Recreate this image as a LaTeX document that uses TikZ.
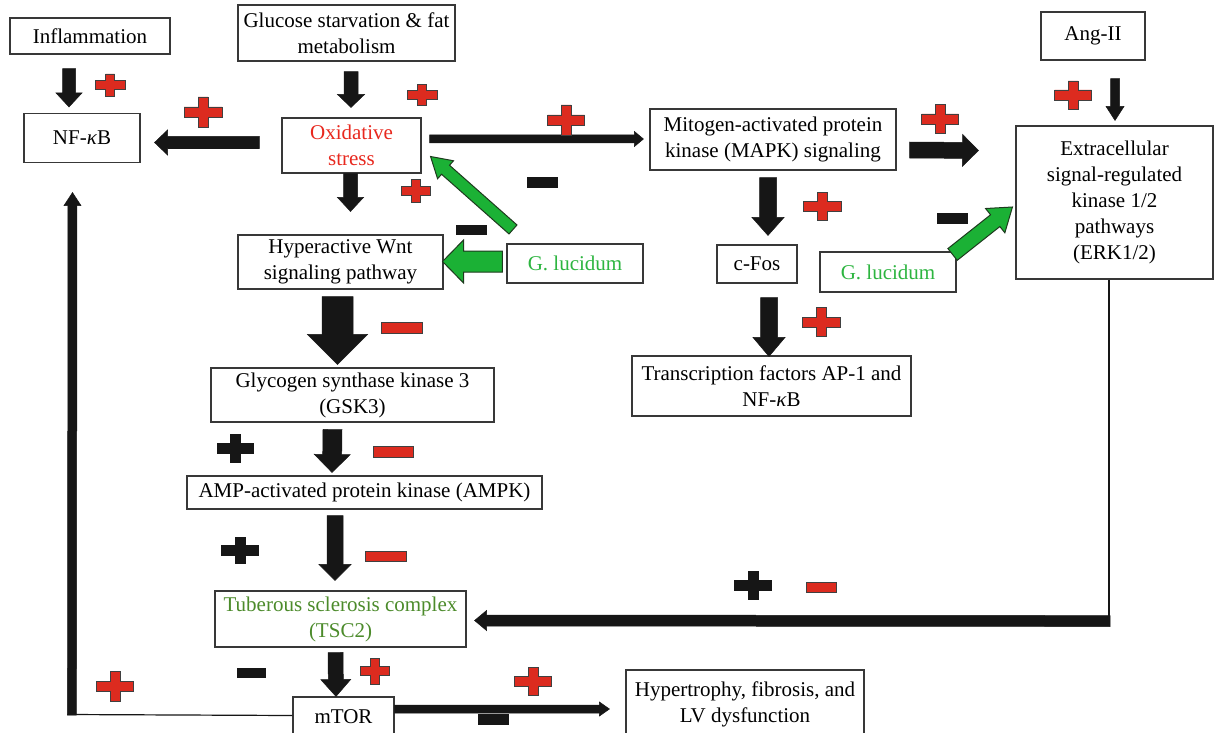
\documentclass[tikz,border=0pt]{standalone}
\usepackage{fontspec}
\setmainfont{Liberation Serif}
\usetikzlibrary{calc}
\definecolor{sred}{HTML}{DC2B1F}
\definecolor{txtred}{HTML}{E8281E}
\definecolor{agreen}{HTML}{1BB135}
\definecolor{gtext}{HTML}{2DB540}
\definecolor{tscgreen}{HTML}{4C8B2B}
\definecolor{ablack}{HTML}{161616}
\definecolor{gline}{HTML}{1E3A1E}
% block arrow: [style]{from}{to}{half shaft}{half head}{head length}
\newcommand\barrow[6][blk]{%
  \coordinate (bah) at ($(#3)!#6pt!(#2)$);
  \path[#1] ($(#2)!#4pt!90:(#3)$) -- ($(bah)!#4pt!-90:(#2)$) -- ($(bah)!#5pt!-90:(#2)$) -- (#3) -- ($(bah)!#5pt!90:(#2)$) -- ($(bah)!#4pt!90:(#2)$) -- ($(#2)!#4pt!-90:(#3)$) -- cycle;}
% plus sign: style, x, y, half width, half height, half thickness
\newcommand\plusmark[6]{\path[#1,shift={(#2,#3)}] (-#4,-#6) -- (-#6,-#6) -- (-#6,-#5) -- (#6,-#5) -- (#6,-#6) -- (#4,-#6) -- (#4,#6) -- (#6,#6) -- (#6,#5) -- (-#6,#5) -- (-#6,#6) -- (-#4,#6) -- cycle;}
% minus sign: style, x, y, half width, half height
\newcommand\minusmark[5]{\path[#1] (#2-#4,#3-#5) rectangle (#2+#4,#3+#5);}
\begin{document}
\begin{tikzpicture}[x=1pt,y=-1pt,
  box/.style={draw=black!78, line width=1.1pt, fill=white, align=center, inner sep=0pt, font=\fontsize{21}{26}\selectfont},
  blk/.style={fill=ablack, draw=ablack, line width=0.5pt, line join=miter},
  grn/.style={fill=agreen, draw=gline, line width=1pt, line join=miter},
  rsign/.style={fill=sred, draw=black!75, line width=0.8pt},
  bsign/.style={fill=ablack, draw=ablack, line width=0.5pt}]
\useasboundingbox (0,0) rectangle (1215,733);
\fill[white] (0,0) rectangle (1215,733);

% boxes
\node[box, minimum width=160pt, minimum height=36pt] (infl) at (90,36) {Inflammation};
\node[box, minimum width=217pt, minimum height=56pt] (gluc) at (346.5,33) {Glucose starvation \& fat\\metabolism};
\node[box, minimum width=116pt, minimum height=49pt] (nfkb) at (82,138) {NF-\textit{κ}B};
\node[box, minimum width=139pt, minimum height=55pt, text=txtred] (ox) at (351.5,145.5) {Oxidative\\stress};
\node[box, minimum width=246pt, minimum height=61pt] (mapk) at (773,139.5) {Mitogen-activated protein\\kinase (MAPK) signaling};
\node[box, minimum width=104pt, minimum height=48pt] (ang) at (1093,36) {Ang-II};
\node[box, minimum width=197pt, minimum height=153pt] (erk) at (1114.5,202.5) {Extracellular\\signal-regulated\\kinase 1/2\\pathways\\(ERK1/2)};
\node[box, minimum width=136pt, minimum height=39pt, text=gtext] (glL) at (575,263.5) {G. lucidum};
\node[box, minimum width=205pt, minimum height=54pt] (wnt) at (340.5,262) {Hyperactive Wnt\\signaling pathway};
\node[box, minimum width=80pt, minimum height=38pt] (cfos) at (757,264) {c-Fos};
\node[box, minimum width=136pt, minimum height=40pt, text=gtext] (glR) at (888,272) {G. lucidum};
\node[box, minimum width=279pt, minimum height=60pt] (tf) at (771.5,386) {Transcription factors AP-1 and\\NF-\textit{κ}B};
\node[box, minimum width=283pt, minimum height=54pt] (gsk) at (352.5,395) {Glycogen synthase kinase 3\\(GSK3)};
\node[box, minimum width=355pt, minimum height=33pt] (ampk) at (364.5,492.5) {AMP-activated protein kinase (AMPK)};
\node[box, minimum width=251pt, minimum height=56pt, text=tscgreen] (tsc) at (340.5,619) {Tuberous sclerosis complex\\(TSC2)};
\node[box, minimum width=101pt, minimum height=40pt] (mtor) at (343.5,717) {mTOR};
\node[box, minimum width=238pt, minimum height=68pt] (hyp) at (745,704) {Hypertrophy, fibrosis, and\\LV dysfunction};

% connectors
\coordinate (a1s) at ($(infl.south)+(-21,14)$);
\coordinate (a1e) at ($(nfkb.north)+(-13,-6)$);
\barrow{a1s}{a1e}{6.5}{13}{14}

\coordinate (a2s) at ($(gluc.south)+(4.5,10)$);
\coordinate (a2e) at ($(ox.north)+(-0.5,-10)$);
\barrow{a2s}{a2e}{7}{13.5}{13}

\coordinate (a3s) at ($(ox.west)+(-22,-3)$);
\coordinate (a3e) at ($(nfkb.east)+(14,4.5)$);
\barrow{a3s}{a3e}{6}{12.5}{13}

\coordinate (a4s) at ($(ox.south)+(-1,0)$);
\coordinate (a4e) at ($(wnt.north)+(10,-23)$);
\barrow{a4s}{a4e}{7}{13}{14}

\coordinate (a5s) at ($(ox.east)+(8,-6.5)$);
\coordinate (a5e) at ($(mapk.west)+(-6,-0.5)$);
\barrow{a5s}{a5e}{4}{7.5}{9}

\coordinate (a6s) at ($(mapk.east)+(13,10.5)$);
\coordinate (a6e) at ($(erk.west)+(-37,-52)$);
\barrow{a6s}{a6e}{8}{16}{16}

\coordinate (a7s) at ($(ang.south)+(22,18)$);
\coordinate (a7e) at ($(erk.north)+(0.5,-5)$);
\barrow{a7s}{a7e}{4.5}{9}{14}

\coordinate (a8s) at ($(glL.west)+(-4,-2)$);
\coordinate (a8e) at ($(wnt.east)+(-1,-0.5)$);
\barrow[grn]{a8s}{a8e}{10.5}{21.5}{21}

\coordinate (a9s) at ($(glL.north)+(-62,-14)$);
\coordinate (a9e) at ($(ox.east)+(9,11)$);
\barrow[grn]{a9s}{a9e}{6}{12}{20}

\coordinate (a10s) at ($(glR.north east)+(-4,3)$);
\coordinate (a10e) at ($(erk.west)+(-3,4.5)$);
\barrow[grn]{a10s}{a10e}{7.5}{15.5}{22}

\coordinate (a11s) at ($(mapk.south)+(-5,7)$);
\coordinate (a11e) at ($(cfos.north)+(11,-9)$);
\barrow{a11s}{a11e}{8.5}{16}{18}

\coordinate (a12s) at ($(cfos.south)+(12,14)$);
\coordinate (a12e) at ($(tf.north)+(-2.5,1)$);
\barrow{a12s}{a12e}{8.5}{16}{19}

\coordinate (a13s) at ($(wnt.south)+(-3,7)$);
\coordinate (a13e) at ($(gsk.north)+(-15,-3)$);
\barrow{a13s}{a13e}{15.5}{30}{30}

\coordinate (a14s) at ($(gsk.south)+(-20,7)$);
\coordinate (a14e) at ($(ampk.north)+(-32.5,-3)$);
\barrow{a14s}{a14e}{9.5}{18}{18}

\coordinate (a15s) at ($(ampk.south)+(-29.5,6)$);
\coordinate (a15e) at ($(tsc.north)+(-5.5,-10)$);
\barrow{a15s}{a15e}{8}{16}{16}

\coordinate (a16s) at ($(tsc.south)+(-5,5)$);
\coordinate (a16e) at ($(mtor.north)+(-7.5,0)$);
\barrow{a16s}{a16e}{7.5}{15}{17}

\coordinate (a17s) at ($(mtor.east)+(0,-8)$);
\coordinate (a17e) at ($(hyp.west)+(-16,5)$);
\barrow{a17s}{a17e}{4}{7}{10}

% ERK -> TSC2
\coordinate (e1) at ($(erk.south)+(-5.5,0)$);
\coordinate (e2) at ($(erk.south)+(-5.5,346)$);
\draw[ablack, line width=1.5pt] (e1) -- (e2);
\coordinate (e3) at ($(erk.south)+(-4.5,341.5)$);
\coordinate (e4) at ($(tsc.east)+(8,1.5)$);
\barrow{e3}{e4}{5.5}{10}{12}

% mTOR -> NF-kB
\coordinate (m0) at ($(mtor.west)+(0,-1.5)$);
\coordinate (m1) at ($(mtor.west)+(-225,-2.5)$);
\draw[ablack, line width=1.2pt] (m0) -- (m1);
\coordinate (m2) at ($(mtor.west)+(-220.5,-2)$);
\coordinate (m3) at ($(nfkb.south)+(-9.5,29.5)$);
\barrow{m2}{m3}{4.5}{8.5}{13}

% signs
\plusmark{rsign}{110}{85}{15}{11}{4.5}
\plusmark{rsign}{203}{112}{19}{15}{5}
\plusmark{rsign}{422}{95}{15}{10.5}{4.5}
\plusmark{rsign}{416}{191}{14.5}{11.5}{4.5}
\plusmark{rsign}{566}{120}{18.5}{15}{5}
\plusmark{rsign}{940}{119}{18.5}{14.5}{5}
\plusmark{rsign}{1073}{95}{18.5}{14}{5}
\plusmark{rsign}{822}{206}{19}{14}{5}
\plusmark{rsign}{821}{322}{19}{14.5}{5}
\plusmark{rsign}{375}{671}{14.5}{13}{4.5}
\plusmark{rsign}{115}{686}{18.5}{15}{5}
\plusmark{rsign}{533}{681}{18.5}{14}{5}

\plusmark{bsign}{235}{448}{18}{14}{5}
\plusmark{bsign}{240}{550}{18.5}{13}{5}
\plusmark{bsign}{753}{585}{18.5}{14}{5}

\minusmark{rsign}{402}{328}{20.5}{5.5}
\minusmark{rsign}{393}{452}{20}{5.5}
\minusmark{rsign}{386}{556}{20.5}{5}
\minusmark{rsign}{821}{587}{15}{5}

\minusmark{bsign}{542}{182}{15}{5}
\minusmark{bsign}{471}{230}{15}{4.5}
\minusmark{bsign}{952}{218}{15}{5}
\minusmark{bsign}{251}{673}{14}{4.5}
\minusmark{bsign}{493}{719}{15}{5}
\end{tikzpicture}
\end{document}
